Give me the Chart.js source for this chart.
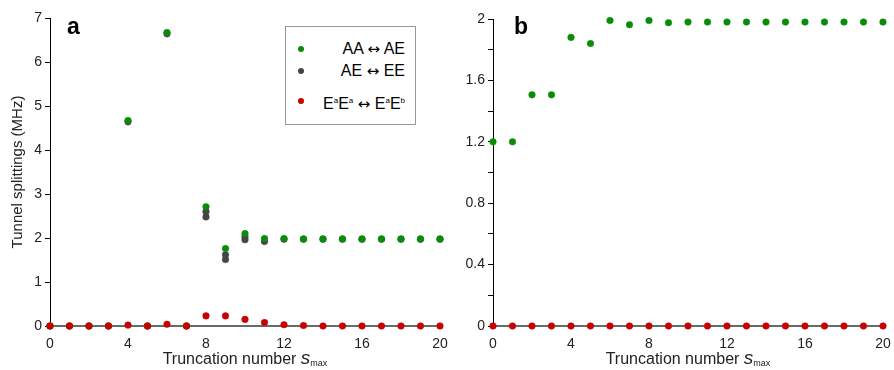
<!DOCTYPE html>
<html>
<head>
<meta charset="utf-8">
<script src="https://cdn.jsdelivr.net/npm/chart.js@4.4.1/dist/chart.umd.min.js"></script>
<style>
  html, body { margin: 0; padding: 0; background: #fff; }
  body { width: 894px; height: 370px; position: relative; overflow: hidden; font-family: "Liberation Sans", Arial, sans-serif; }
  .wrap { position: absolute; top: 0; height: 370px; }
  #wa { left: 0; width: 460px; }
  #wb { left: 460px; width: 434px; }
  .panel { position: absolute; font-weight: bold; font-size: 23px; color: #000; }
  .xt { position: absolute; top: 347px; font-size: 16px; color: #222; white-space: nowrap; transform: translateX(-50%); }
  .xt i { font-size: 19px; font-style: italic; }
  .xt sub { font-size: 9px; vertical-align: -2px; }
  #legend { position: absolute; left: 285px; top: 26px; width: 131px; height: 99px; border: 1px solid #999; box-sizing: border-box; background: #fff; font-size: 16px; color: #000; }
  .li { position: absolute; left: 0; right: 10px; height: 20px; line-height: 20px; text-align: right; }
  .ar { font-family: "DejaVu Sans", sans-serif; font-size: 15px; }
  .dot { position: absolute; left: 12px; top: 7px; width: 6px; height: 6px; border-radius: 50%; }
  .li sup { font-size: 8px; vertical-align: 6px; }
</style>
</head>
<body>
<div class="wrap" id="wa"><canvas id="ca" width="460" height="370"></canvas></div>
<div class="wrap" id="wb"><canvas id="cb" width="434" height="370"></canvas></div>
<div class="panel" style="left:67px; top:13px;">a</div>
<div class="panel" style="left:514px; top:13px;">b</div>
<div class="xt" style="left:245px;">Truncation number <i>s</i><sub>max</sub></div>
<div class="xt" style="left:688px;">Truncation number <i>s</i><sub>max</sub></div>
<div id="legend">
  <div class="li" style="top:12px;"><span class="dot" style="background:#0a8c0a"></span>AA <span class="ar">↔</span> AE</div>
  <div class="li" style="top:34px;"><span class="dot" style="background:#454545"></span>AE <span class="ar">↔</span> EE</div>
  <div class="li" style="top:64px;"><span class="dot" style="background:#c80000"></span>E<sup>a</sup>E<sup>a</sup> <span class="ar">↔</span> E<sup>a</sup>E<sup>b</sup></div>
</div>
<script>
// ---- data ----
const sValues = [0,1,2,3,4,5,6,7,8,9,10,11,12,13,14,15,16,17,18,19,20];
// panel a
const aaAE_a   = [0,0,0,0,4.67,0,6.67,0,2.71,1.76,2.10,1.99,1.99,1.98,1.98,1.98,1.98,1.98,1.98,1.98,1.98];
const aeEE_a   = [0,0,0,0,4.64,0,6.64,0,2.60,1.62,2.02,1.92,1.97,1.97,1.97,1.97,1.97,1.97,1.97,1.97,1.97];
const aeEE_a2X = [8,9,10];
const aeEE_a2Y = [2.48,1.51,1.96];
const eaEb_a   = [0,0,0,0,0.02,0,0.04,0,0.23,0.23,0.15,0.08,0.03,0.01,0,0,0,0,0,0,0];
// panel b
const aaAE_b   = [1.2,1.2,1.506,1.506,1.88,1.84,1.99,1.963,1.99,1.976,1.98,1.98,1.98,1.98,1.98,1.98,1.98,1.98,1.98,1.98,1.98];
const eaEb_b   = [0,0,0,0,0,0,0,0,0,0,0,0,0,0,0,0,0,0,0,0,0];
// tick labels
const xTicksA = [0,4,8,12,16,20];
const yTicksB = [0,0.4,0.8,1.2,1.6,2];

const GREEN = '#0a8c0a', GRAY = '#454545', RED = '#c80000';
const toPts = (xs, ys) => xs.map((x, i) => ({x: x, y: ys[i]}));

function ds(data, color, order) {
  return { data: data, backgroundColor: color, borderColor: color, borderWidth: 0.5,
           pointRadius: 3.3, pointHoverRadius: 3.3, clip: false, order: order, showLine: false };
}

const font14 = { family: '"Liberation Sans", Arial, sans-serif', size: 14 };

function xScale() {
  return {
    type: 'linear', min: 0, max: 20,
    ticks: { stepSize: 2, autoSkip: false, color: '#222', font: font14, padding: 2, maxRotation: 0,
             callback: v => xTicksA.includes(v) ? String(v) : '' },
    grid: { display: false },
    border: { display: true, color: '#6a6a6a', width: 2 },
    afterFit: s => { s.height = 44; }
  };
}

new Chart(document.getElementById('ca'), {
  type: 'scatter',
  data: { datasets: [
    ds(toPts(sValues, eaEb_a), RED, 0),
    ds(toPts(sValues, aaAE_a), GREEN, 1),
    ds(toPts(sValues, aeEE_a).concat(toPts(aeEE_a2X, aeEE_a2Y)), GRAY, 2)
  ]},
  options: {
    responsive: false, animation: false,
    layout: { padding: { left: 0, right: 20, top: 18, bottom: 0 } },
    plugins: { legend: { display: false }, tooltip: { enabled: false } },
    scales: {
      x: xScale(),
      y: {
        min: 0, max: 7,
        ticks: { stepSize: 1, color: '#222', font: font14, padding: 3 },
        grid: { display: true, drawOnChartArea: false, tickLength: 5, color: '#000' },
        border: { display: true, color: '#000', width: 1 },
        title: { display: true, text: 'Tunnel splittings (MHz)', color: '#222',
                 font: { family: '"Liberation Sans", Arial, sans-serif', size: 15 }, padding: { top: 9, bottom: 0 } },
        afterFit: s => { s.width = 50; }
      }
    }
  }
});

new Chart(document.getElementById('cb'), {
  type: 'scatter',
  data: { datasets: [
    ds(toPts(sValues, eaEb_b), RED, 0),
    ds(toPts(sValues, aaAE_b), GREEN, 1)
  ]},
  options: {
    responsive: false, animation: false,
    layout: { padding: { left: 0, right: 11, top: 19, bottom: 0 } },
    plugins: { legend: { display: false }, tooltip: { enabled: false } },
    scales: {
      x: xScale(),
      y: {
        min: 0, max: 2,
        ticks: { stepSize: 0.2, autoSkip: false, color: '#222', font: font14, padding: 3,
                 callback: v => { const r = Math.round(v * 10) / 10; return yTicksB.some(t => Math.abs(t - r) < 1e-6) ? String(r) : ''; } },
        grid: { display: true, drawOnChartArea: false, tickLength: 5, color: '#000' },
        border: { display: true, color: '#000', width: 1 },
        afterFit: s => { s.width = 33; }
      }
    }
  }
});
</script>
</body>
</html>
